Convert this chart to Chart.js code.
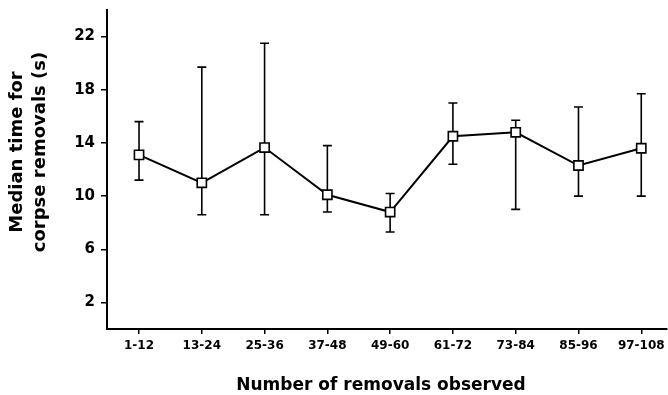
<!DOCTYPE html>
<html lang="en">
<head>
    <meta charset="UTF-8">
    <title>Median time for corpse removals</title>
    <style>
        html, body { margin: 0; padding: 0; background: #fff; }
        #wrap { width: 668px; height: 395px; }
    </style>
</head>
<body>
    <div id="wrap"><canvas id="chart" width="668" height="395"></canvas></div>

    <script src="https://cdn.jsdelivr.net/npm/chart.js"></script>
    <script>
        // values
        const categories = ['1-12', '13-24', '25-36', '37-48', '49-60', '61-72', '73-84', '85-96', '97-108'];
        const medians = [13.1, 11.0, 13.65, 10.1, 8.8, 14.5, 14.8, 12.3, 13.6];
        const upper = [15.6, 19.7, 21.5, 13.8, 10.2, 17.0, 15.7, 16.7, 17.7];
        const lower = [11.2, 8.6, 8.6, 8.8, 7.3, 12.4, 9.0, 10.0, 10.0];
        const yTicks = [2, 6, 10, 14, 18, 22];
        const yTitle = ['Median time for', 'corpse removals (s)'];
        const xTitle = 'Number of removals observed';

        const FONT = '"DejaVu Sans", Arial, Helvetica, sans-serif';

        // whiskers drawn under the line and the squares
        const errorBars = {
            id: 'errorBars',
            beforeDatasetsDraw(chart) {
                const { ctx, scales: { x, y } } = chart;
                ctx.save();
                ctx.strokeStyle = '#000';
                ctx.lineWidth = 1.6;
                medians.forEach((m, i) => {
                    const px = x.getPixelForValue(i);
                    const top = y.getPixelForValue(upper[i]);
                    const bot = y.getPixelForValue(lower[i]);
                    ctx.beginPath();
                    ctx.moveTo(px, top);
                    ctx.lineTo(px, bot);
                    ctx.moveTo(px - 4.5, top);
                    ctx.lineTo(px + 4.5, top);
                    ctx.moveTo(px - 4.5, bot);
                    ctx.lineTo(px + 4.5, bot);
                    ctx.stroke();
                });
                ctx.restore();
            }
        };

        // axis titles
        const titles = {
            id: 'titles',
            afterDraw(chart) {
                const { ctx, chartArea } = chart;
                ctx.save();
                ctx.fillStyle = '#000';
                ctx.textAlign = 'center';
                ctx.textBaseline = 'middle';
                ctx.font = 'bold 17px ' + FONT;
                ctx.fillText(xTitle, (chartArea.left + chartArea.right) / 2 - 6, 386);
                ctx.translate(0, 152);
                ctx.rotate(-Math.PI / 2);
                ctx.font = 'bold 18px ' + FONT;
                ctx.fillText(yTitle[0], 0, 17);
                ctx.fillText(yTitle[1], 0, 40);
                ctx.restore();
            }
        };

        function noPad(scale) {
            scale.paddingLeft = 0;
            scale.paddingRight = 0;
            scale.paddingTop = 0;
            scale.paddingBottom = 0;
        }

        new Chart(document.getElementById('chart'), {
            type: 'line',
            data: {
                datasets: [{
                    data: medians.map((v, i) => ({ x: i, y: v })),
                    borderColor: '#000',
                    borderWidth: 2,
                    backgroundColor: '#fff',
                    pointStyle: 'rect',
                    pointRadius: 6.5,
                    pointBorderWidth: 1.6,
                    pointBorderColor: '#000',
                    pointBackgroundColor: '#fff',
                    tension: 0
                }]
            },
            options: {
                responsive: false,
                animation: false,
                events: [],
                layout: { autoPadding: false, padding: { top: 10, right: 1, left: 0, bottom: 0 } },
                plugins: { legend: { display: false }, tooltip: { enabled: false } },
                scales: {
                    x: {
                        type: 'linear',
                        min: -0.51,
                        max: 8.41,
                        afterBuildTicks(scale) {
                            scale.ticks = categories.map((c, i) => ({ value: i }));
                        },
                        afterFit(scale) { scale.height = 66; noPad(scale); },
                        border: { display: true, color: '#000', width: 2 },
                        grid: { drawOnChartArea: false, drawTicks: true, tickLength: 5, color: '#000', lineWidth: 1.5 },
                        ticks: {
                            color: '#000',
                            padding: 5,
                            maxRotation: 0,
                            font: { family: FONT, size: 12, weight: 'bold' },
                            callback: (v) => categories[v]
                        }
                    },
                    y: {
                        type: 'linear',
                        min: 0,
                        max: 24,
                        afterBuildTicks(scale) {
                            scale.ticks = yTicks.map(v => ({ value: v }));
                        },
                        afterFit(scale) { scale.width = 107; noPad(scale); },
                        border: { display: true, color: '#000', width: 2 },
                        grid: { drawOnChartArea: false, drawTicks: true, tickLength: 6, color: '#000', lineWidth: 1.5 },
                        ticks: {
                            color: '#000',
                            padding: 6,
                            font: { family: FONT, size: 15, weight: 'bold' },
                            callback: (v) => String(v)
                        }
                    }
                }
            },
            plugins: [errorBars, titles]
        });
    </script>
</body>
</html>
